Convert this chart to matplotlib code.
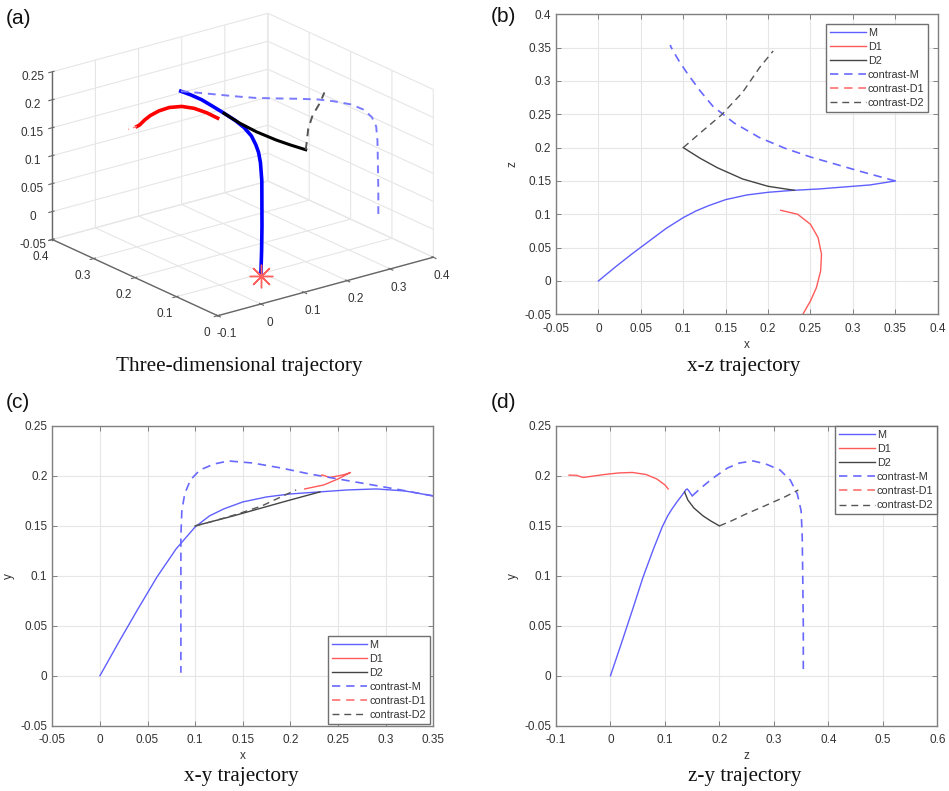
import numpy as np
import matplotlib
matplotlib.use('Agg')
import matplotlib.pyplot as plt
from matplotlib.ticker import FuncFormatter

plt.rcParams['font.family'] = ['Liberation Sans', 'DejaVu Sans']
plt.rcParams['axes.unicode_minus'] = False

# ---------------- trajectory data (x, y, z) ----------------
m_x = [0.0, 0.02, 0.04, 0.06, 0.08, 0.1, 0.115, 0.13, 0.15, 0.175, 0.2, 0.23, 0.26, 0.29, 0.32, 0.35]
m_y = [0.0, 0.034, 0.067, 0.099, 0.127, 0.149, 0.160, 0.167, 0.174, 0.179, 0.182, 0.184, 0.186, 0.187, 0.185, 0.180]
m_z = [0.0, 0.021, 0.041, 0.060, 0.079, 0.095, 0.105, 0.113, 0.122, 0.129, 0.133, 0.136, 0.138, 0.141, 0.144, 0.150]

d1_x = [0.215, 0.235, 0.250, 0.259, 0.263, 0.262, 0.257, 0.250, 0.241, 0.235]
d1_y = [0.187, 0.191, 0.197, 0.2015, 0.2035, 0.2030, 0.2015, 0.2000, 0.1985, 0.2005]
d1_z = [0.106, 0.100, 0.085, 0.065, 0.040, 0.015, -0.010, -0.030, -0.050, -0.062]

d2_x = [0.231, 0.2, 0.17, 0.14, 0.12, 0.1]
d2_y = [0.184, 0.176, 0.168, 0.160, 0.155, 0.150]
d2_z = [0.136, 0.142, 0.153, 0.170, 0.184, 0.200]

cm_x = [0.35, 0.31, 0.28, 0.25, 0.22, 0.19, 0.16, 0.135, 0.12, 0.105, 0.095, 0.089, 0.086, 0.085, 0.085, 0.085, 0.085]
cm_y = [0.180, 0.187, 0.192, 0.197, 0.202, 0.208, 0.213, 0.215, 0.212, 0.206, 0.196, 0.182, 0.165, 0.14, 0.1, 0.05, 0.003]
cm_z = [0.150, 0.164, 0.175, 0.186, 0.199, 0.215, 0.237, 0.262, 0.285, 0.311, 0.330, 0.343, 0.350, 0.352, 0.353, 0.354, 0.354]

c1_x = [0.235, 0.232]
c1_y = [0.2005, 0.2010]
c1_z = [-0.062, -0.085]

c2_x = [0.1, 0.12, 0.145, 0.17, 0.19, 0.206]
c2_y = [0.150, 0.155, 0.162, 0.170, 0.179, 0.186]
c2_z = [0.200, 0.222, 0.249, 0.283, 0.320, 0.345]

start_point = [0.0, 0.0, 0.0]

names = ['M', 'D1', 'D2', 'contrast-M', 'contrast-D1', 'contrast-D2']
series = {
    'M': (m_x, m_y, m_z),
    'D1': (d1_x, d1_y, d1_z),
    'D2': (d2_x, d2_y, d2_z),
    'contrast-M': (cm_x, cm_y, cm_z),
    'contrast-D1': (c1_x, c1_y, c1_z),
    'contrast-D2': (c2_x, c2_y, c2_z),
}

titles = ['Three-dimensional trajectory', 'x-z trajectory', 'x-y trajectory', 'z-y trajectory']
panel_tags = ['(a)', '(b)', '(c)', '(d)']

# ---------------- styles ----------------
style2d = {
    'M': dict(color='#5f5fff', ls='-', lw=1.0),
    'D1': dict(color='#ff5a5a', ls='-', lw=1.0),
    'D2': dict(color='#444444', ls='-', lw=1.0),
    'contrast-M': dict(color='#6868ff', ls=(0, (5, 3.5)), lw=1.2),
    'contrast-D1': dict(color='#ff7070', ls=(0, (5, 3.5)), lw=1.2),
    'contrast-D2': dict(color='#555555', ls=(0, (5, 3.5)), lw=1.0),
}
style3d = {
    'M': dict(color='#0000ff', ls='-', lw=2.6),
    'D1': dict(color='#ff0000', ls='-', lw=2.6),
    'D2': dict(color='#000000', ls='-', lw=2.2),
    'contrast-M': dict(color='#7a7aff', ls=(0, (4, 3)), lw=1.4),
    'contrast-D1': dict(color='#ff8080', ls=(0, (3, 3)), lw=1.0),
    'contrast-D2': dict(color='#555555', ls=(0, (4, 3)), lw=1.4),
}

W, H = 949, 791
fig = plt.figure(figsize=(W / 100, H / 100), dpi=100)

fmt = FuncFormatter(lambda v, p: f'{round(v, 6) + 0.0:g}')
TICK_C = '#333333'
AX_C = '#808080'
GRID_C = '#e6e6e6'


def px_rect(left, top, right, bottom):
    return [left / W, 1 - bottom / H, (right - left) / W, (bottom - top) / H]


def make2d(rect, hkey, vkey, xlim, ylim, xticks, yticks, xl, yl, leg_loc, leg_anchor):
    ax = fig.add_axes(rect)
    idx = {'x': 0, 'y': 1, 'z': 2}
    for n in names:
        d = series[n]
        ax.plot(d[idx[hkey]], d[idx[vkey]], label=n, **style2d[n])
    ax.set_xlim(*xlim)
    ax.set_ylim(*ylim)
    ax.set_xticks(xticks)
    ax.set_yticks(yticks)
    ax.xaxis.set_major_formatter(fmt)
    ax.yaxis.set_major_formatter(fmt)
    ax.grid(True, color=GRID_C, lw=0.8)
    ax.set_axisbelow(True)
    ax.tick_params(direction='in', top=True, right=True, length=3.5, width=0.7,
                   color=AX_C, labelcolor=TICK_C, labelsize=8.5)
    ax.tick_params(axis='x', pad=6)
    ax.tick_params(axis='y', pad=3.5)
    for s in ax.spines.values():
        s.set_color(AX_C)
        s.set_linewidth(1.0)
    ax.set_xlabel(xl, fontsize=8.5, color=TICK_C, labelpad=3)
    ax.set_ylabel(yl, fontsize=8.5, color=TICK_C, labelpad=4)
    leg = ax.legend(loc=leg_loc, bbox_to_anchor=leg_anchor, fontsize=7.8, frameon=True,
                    fancybox=False, edgecolor='#707070', framealpha=1,
                    handlelength=3.3, handletextpad=0.2, borderpad=0.35,
                    labelspacing=0.38, borderaxespad=0)
    leg.get_frame().set_linewidth(1.0)
    for t in leg.get_texts():
        t.set_color(TICK_C)
    return ax


# (b) x-z
axb = make2d(px_rect(556, 14.3, 937.7, 314.3), 'x', 'z', (-0.05, 0.4), (-0.05, 0.4),
             np.arange(-0.05, 0.4001, 0.05), np.arange(-0.05, 0.4001, 0.05), 'x', 'z',
             'upper right', (0.975, 0.968))
# (c) x-y
axc = make2d(px_rect(52.3, 426, 433.3, 725.7), 'x', 'y', (-0.05, 0.35), (-0.05, 0.25),
             np.arange(-0.05, 0.3501, 0.05), np.arange(-0.05, 0.2501, 0.05), 'x', 'y',
             'lower right', (0.991, 0.006))
# (d) z-y
axd = make2d(px_rect(556, 426, 937.3, 725.7), 'z', 'y', (-0.1, 0.6), (-0.05, 0.25),
             np.arange(-0.1, 0.6001, 0.1), np.arange(-0.05, 0.2501, 0.05), 'z', 'y',
             'upper right', (1.0, 1.0))

# (a) 3D: horizontal axes are z (right edge) and x (left edge), vertical is y
ax3 = fig.add_axes([0.0, 0.55, 0.45, 0.45], projection='3d', proj_type='ortho')
ax3.view_init(elev=20.7, azim=-127.5)
ax3.set_box_aspect((1, 1, 0.66))
for n in names:
    d = series[n]
    ax3.plot(d[2], d[0], d[1], **style3d[n])
ax3.plot([start_point[2]], [start_point[0]], [start_point[1]], marker=(8, 2, 0),
         ms=17, mec='#ff6060', mew=1.0, ls='none')
lim3 = {'x': (-0.1, 0.4), 'y': (0.0, 0.4), 'z': (-0.05, 0.25)}
ax3.set_xlim(*lim3['x'])
ax3.set_ylim(*lim3['y'])
ax3.set_zlim(*lim3['z'])
ax3.set_xticks(np.arange(-0.1, 0.4001, 0.1))
ax3.set_yticks(np.arange(0.0, 0.4001, 0.1))
ax3.set_zticks(np.arange(-0.05, 0.2501, 0.05))
for a in (ax3.xaxis, ax3.yaxis, ax3.zaxis):
    a.set_major_formatter(fmt)
    a.set_pane_color((1, 1, 1, 0))
    a.pane.set_edgecolor(GRID_C)
    a._axinfo['grid'].update(color=GRID_C, linewidth=0.8)
    a.line.set_color('#666666')
    a.line.set_linewidth(1.0)
ax3.tick_params(axis='both', colors='#666666', labelcolor=TICK_C, labelsize=8.5, pad=0)
ax3.tick_params(axis='z', colors='#666666', labelcolor=TICK_C, labelsize=8.5, pad=0)
ax3.patch.set_alpha(0)

# fit projected box to target pixel area
fig.canvas.draw()
corners = np.array([[x, y, z, 1.0] for x in lim3['x'] for y in lim3['y'] for z in lim3['z']])
Mp = ax3.get_proj()
pr = (Mp @ corners.T)
pxy = ax3.transData.transform(np.column_stack([pr[0] / pr[3], pr[1] / pr[3]]))
px0, px1 = pxy[:, 0].min(), pxy[:, 0].max()
py0, py1 = pxy[:, 1].min(), pxy[:, 1].max()
pos = ax3.get_position()
S0 = pos.width * W
C0 = np.array([(pos.x0 + pos.width / 2) * W, (pos.y0 + pos.height / 2) * H])
tx0, tx1, ty0, ty1 = 52.3, 433.3, H - 315.0, H - 14.0
k = (tx1 - tx0) / (px1 - px0)
sc = np.array([(px0 + px1) / 2, (py0 + py1) / 2])
tc = np.array([(tx0 + tx1) / 2, (ty0 + ty1) / 2])
newC = tc - k * (sc - C0)
S = k * S0
ax3.set_position([(newC[0] - S / 2) / W, (newC[1] - S / 2) / H, S / W, S / H])

# titles and tags
title_pos = [(239, 367), (744, 367), (241, 777), (745, 777)]
for t, (x, y) in zip(titles, title_pos):
    fig.text(x / W, 1 - y / H, t, ha='center', va='center', fontsize=15.2,
             family=['Liberation Serif', 'DejaVu Serif'], color='#111111')
tag_pos = [(6, 19), (491, 17), (6, 403), (491, 403)]
for t, (x, y) in zip(panel_tags, tag_pos):
    fig.text(x / W, 1 - y / H, t, ha='left', va='center', fontsize=15, color='#111111')

fig.savefig('out.png', dpi=100)
